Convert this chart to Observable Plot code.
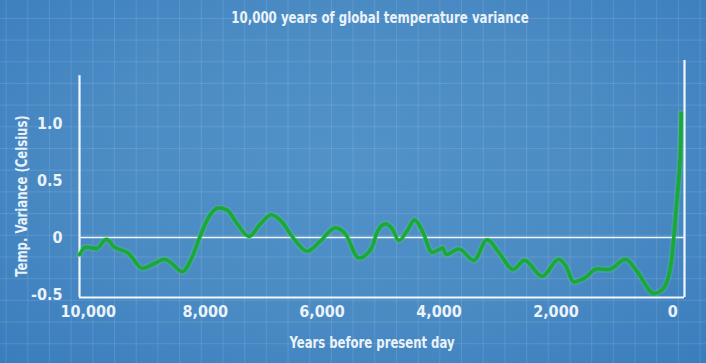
<!DOCTYPE html>
<html>
<head>
<meta charset="utf-8">
<script src="https://cdn.jsdelivr.net/npm/d3@7"></script>
<script src="https://cdn.jsdelivr.net/npm/@observablehq/plot@0.6"></script>
<style>
  html, body { margin: 0; padding: 0; }
  body { width: 706px; height: 363px; overflow: hidden; }
  #wrap {
    position: relative; width: 706px; height: 363px; overflow: hidden;
    background-color: #4a8bc4;
    background-image:
      linear-gradient(to right, rgba(255,255,255,0.11) 1px, transparent 1px),
      linear-gradient(to bottom, rgba(255,255,255,0.11) 1px, transparent 1px),
      radial-gradient(ellipse at 50% 45%, #5192c9 0%, #4a8bc4 55%, #3a7dbd 100%);
    background-size: 21.7px 21.7px, 21.7px 21.7px, 100% 100%;
    background-position: 5.6px 0, 0 17.9px, 0 0;
    font-family: "Liberation Sans Narrow", "DejaVu Sans Condensed", "Liberation Sans", sans-serif;
    font-weight: bold;
    color: #eaf2fa;
  }
  #chart { position: absolute; left: 0; top: 0; }
  .lbl { position: absolute; white-space: nowrap; line-height: 1; }
  #title { left: 379.5px; top: 19px; transform: translate(-50%, -50%) scaleX(0.845); font-size: 15.5px; }
  #ylab { left: 22px; top: 196px; transform: translate(-50%, -50%) rotate(-90deg) scaleX(0.81); font-size: 16px; }
  #xlab { left: 372px; top: 343px; transform: translate(-50%, -50%) scaleX(0.81); font-size: 16px; }
</style>
</head>
<body>
<div id="wrap">
  <div id="chart"></div>
  <div class="lbl" id="title">10,000 years of global temperature variance</div>
  <div class="lbl" id="ylab">Temp. Variance (Celsius)</div>
  <div class="lbl" id="xlab">Years before present day</div>
</div>
<script>
// Years before present (BP) and temperature variance (°C)
const years = [10150, 10047, 9960, 9860, 9690, 9563, 9307, 9078, 8879, 8696, 8564, 8393, 8222, 8080, 7938, 7767, 7623, 7452, 7253, 7053, 6870, 6711, 6484, 6255, 6027, 5770, 5599, 5371, 5150, 5057, 4915, 4800, 4687, 4543, 4419, 4287, 4116, 3975, 3935, 3880, 3660, 3404, 3175, 2977, 2731, 2537, 2234, 1950, 1835, 1693, 1522, 1293, 1094, 809, 608, 324, 210, 95, 22, -17, -85, -109, -132, -144];
const temps = [-0.15, -0.085, -0.09, -0.097, -0.015, -0.08, -0.14, -0.27, -0.23, -0.19, -0.23, -0.30, -0.17, 0.02, 0.18, 0.26, 0.24, 0.12, 0.01, 0.12, 0.20, 0.15, -0.01, -0.12, -0.03, 0.085, 0.03, -0.18, -0.09, 0.05, 0.12, 0.076, -0.026, 0.06, 0.155, 0.06, -0.13, -0.10, -0.09, -0.15, -0.10, -0.20, -0.02, -0.13, -0.28, -0.20, -0.34, -0.19, -0.245, -0.39, -0.36, -0.275, -0.28, -0.19, -0.30, -0.49, -0.47, -0.38, -0.20, 0.0, 0.41, 0.56, 0.80, 1.09];

const xTicks = [10000, 8000, 6000, 4000, 2000, 0];
const xTickLabels = ["10,000", "8,000", "6,000", "4,000", "2,000", "0"];
const yTicks = [1.0, 0.5, 0, -0.5];
const yTickLabels = ["1.0", "0.5", "0", "-0.5"];

const xDomain = [10150, -200];
const yDomain = [-0.526, 1.553];
const leftAxisTop = 1.42;

const data = years.map((y, i) => ({year: y, temp: temps[i]}));

const plot = Plot.plot({
  width: 706,
  height: 363,
  marginLeft: 79,
  marginRight: 22,
  marginTop: 60,
  marginBottom: 66,
  style: {
    background: "transparent",
    color: "#eaf2fa",
    fontFamily: '"Liberation Sans Narrow", "DejaVu Sans Condensed", "Liberation Sans", sans-serif',
    fontWeight: "bold",
    fontSize: "16px"
  },
  x: {domain: xDomain},
  y: {domain: yDomain},
  marks: [
    Plot.ruleY([0], {stroke: "#f4f8fc", strokeWidth: 1.6}),
    Plot.ruleY([yDomain[0]], {stroke: "#f4f8fc", strokeWidth: 2.2}),
    Plot.ruleX([xDomain[0]], {y1: yDomain[0], y2: leftAxisTop, stroke: "#f4f8fc", strokeWidth: 2.2}),
    Plot.ruleX([xDomain[1]], {y1: yDomain[0], y2: yDomain[1], stroke: "#f4f8fc", strokeWidth: 2.2}),
    Plot.line(data, {x: "year", y: "temp", curve: "monotone-x", stroke: "#5fdc70", strokeWidth: 7, strokeOpacity: 0.22}),
    Plot.line(data, {x: "year", y: "temp", curve: "monotone-x", stroke: "#19aa36", strokeWidth: 3.6}),
    Plot.axisX({ticks: xTicks, tickSize: 0, tickPadding: 8, label: null,
      tickFormat: d => xTickLabels[xTicks.indexOf(d)]}),
    Plot.axisY({ticks: yTicks, tickSize: 0, tickPadding: 17, label: null,
      tickFormat: d => yTickLabels[yTicks.indexOf(d)]})
  ]
});
document.getElementById("chart").appendChild(plot);
</script>
</body>
</html>
